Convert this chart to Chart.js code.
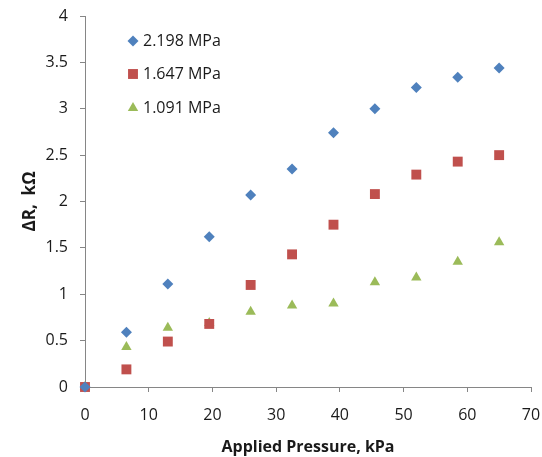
<!DOCTYPE html>
<html>
<head>
<meta charset="utf-8">
<script src="https://cdn.jsdelivr.net/npm/chart.js@4.4.1/dist/chart.umd.min.js"></script>
<style>
  html, body { margin: 0; padding: 0; background: #fff; }
  #wrap { width: 542px; height: 457px; }
</style>
</head>
<body>
<div id="wrap"><canvas id="c" width="542" height="457"></canvas></div>
<script>
const pressure = [0, 6.5, 13, 19.5, 26, 32.5, 39, 45.5, 52, 58.5, 65];
const r2198 = [0, 0.59, 1.11, 1.62, 2.07, 2.35, 2.74, 3.0, 3.23, 3.34, 3.44];
const r1647 = [0, 0.19, 0.49, 0.68, 1.1, 1.43, 1.75, 2.08, 2.29, 2.43, 2.5];
const r1091 = [0, 0.43, 0.64, 0.69, 0.81, 0.88, 0.9, 1.13, 1.18, 1.35, 1.56];
const seriesLabels = ["2.198 MPa", "1.647 MPa", "1.091 MPa"];

const FONT = "'Open Sans', 'Liberation Sans', sans-serif";
const AXIS = "#868686";
const TEXT = "#1a1a1a";

const toPoints = (ys) => pressure.map((x, i) => ({ x, y: ys[i] }));

// legend drawn inside the plot, upper-left, like the original
const innerLegend = {
  id: "innerLegend",
  afterDraw(chart) {
    const ctx = chart.ctx;
    const rows = [41, 74, 108];
    ctx.save();
    chart.data.datasets.forEach((ds, i) => {
      const y = rows[i];
      ctx.fillStyle = ds.backgroundColor;
      ctx.strokeStyle = ds.backgroundColor;
      Chart.helpers.drawPoint(ctx, { pointStyle: ds.pointStyle, radius: ds.pointRadius, borderWidth: 0 }, 133, y);
      ctx.fillStyle = TEXT;
      ctx.font = "16px " + FONT;
      ctx.textBaseline = "middle";
      ctx.textAlign = "left";
      ctx.fillText(ds.label, 143, y);
    });
    ctx.restore();
  },
};

new Chart(document.getElementById("c"), {
  type: "scatter",
  data: {
    datasets: [
      {
        label: seriesLabels[0],
        data: toPoints(r2198),
        pointStyle: "rectRot",
        pointRadius: 5.5,
        backgroundColor: "#4F81BD",
        borderColor: "#4F81BD",
        borderWidth: 0,
        clip: false,
      },
      {
        label: seriesLabels[1],
        data: toPoints(r1647),
        pointStyle: "rect",
        pointRadius: 7,
        backgroundColor: "#C0504D",
        borderColor: "#C0504D",
        borderWidth: 0,
        clip: false,
      },
      {
        label: seriesLabels[2],
        data: toPoints(r1091),
        pointStyle: "triangle",
        pointRadius: 6,
        backgroundColor: "#9BBB59",
        borderColor: "#9BBB59",
        borderWidth: 0,
        clip: false,
      },
    ],
  },
  options: {
    responsive: false,
    animation: false,
    layout: { padding: { top: 16, right: 11, left: 0, bottom: 0 } },
    plugins: {
      legend: { display: false },
      tooltip: { enabled: false },
    },
    scales: {
      x: {
        type: "linear",
        min: 0,
        max: 70,
        ticks: { stepSize: 10, color: TEXT, font: { family: FONT, size: 16 }, padding: 14 },
        grid: { display: true, drawOnChartArea: false, drawTicks: true, tickLength: 5, color: AXIS },
        border: { display: true, color: AXIS, width: 1 },
        title: {
          display: true,
          text: "Applied Pressure, kPa",
          color: TEXT,
          font: { family: FONT, size: 16, weight: "bold", lineHeight: 1.0 },
          padding: { top: 4, bottom: 2 },
        },
        afterFit(scale) {
          scale.height = 70;
          scale.paddingLeft = 0;
          scale.paddingRight = 0;
        },
      },
      y: {
        min: 0,
        max: 4,
        ticks: {
          stepSize: 0.5,
          color: TEXT,
          font: { family: FONT, size: 16 },
          padding: 12,
          callback: (v) => String(Number(v.toFixed(1))),
        },
        grid: { display: true, drawOnChartArea: false, drawTicks: true, tickLength: 5, color: AXIS },
        border: { display: true, color: AXIS, width: 1 },
        title: {
          display: true,
          text: "ΔR,  kΩ",
          color: TEXT,
          font: { family: FONT, size: 17, weight: "bold" },
          padding: { top: 20, bottom: 0 },
        },
        afterFit(scale) {
          scale.width = 85;
          scale.paddingTop = 0;
          scale.paddingBottom = 0;
        },
      },
    },
  },
  plugins: [innerLegend],
});
</script>
</body>
</html>
